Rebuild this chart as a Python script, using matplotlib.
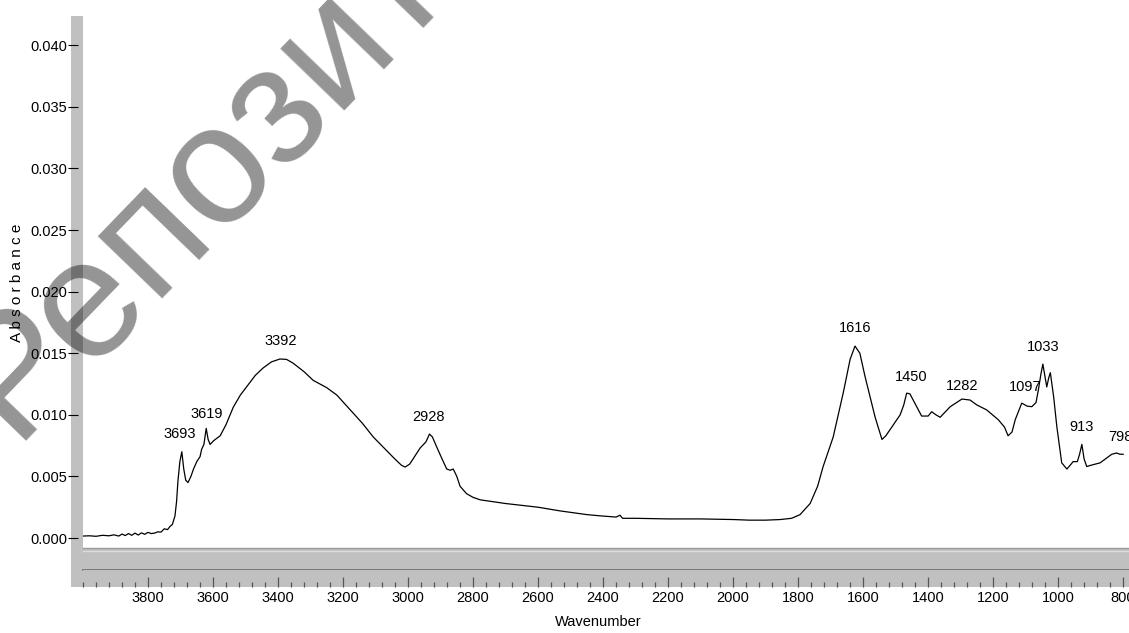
import numpy as np
import matplotlib
matplotlib.use('Agg')
import matplotlib.pyplot as plt
from matplotlib.patches import Rectangle
from matplotlib.ticker import MultipleLocator, FormatStrFormatter

plt.rcParams['font.family'] = ['Liberation Sans', 'DejaVu Sans']

# IR absorbance spectrum
wavenumber = [4000, 3980, 3960, 3940, 3920, 3905, 3890, 3880, 3870, 3860, 3850, 3840,
              3830, 3820, 3810, 3800, 3790, 3780, 3770, 3760, 3750, 3740, 3732, 3725,
              3717, 3712, 3708, 3702, 3696, 3690, 3684, 3677, 3668, 3660, 3650, 3640,
              3635, 3628, 3621, 3615, 3609, 3598, 3588, 3578, 3560, 3538, 3516, 3496,
              3470, 3446, 3420, 3394, 3374, 3354, 3320, 3292, 3250, 3219, 3178, 3140,
              3107, 3070, 3040, 3020, 3009, 2995, 2985, 2963, 2945, 2934, 2925, 2912,
              2895, 2881, 2870, 2861, 2850, 2840, 2820, 2800, 2778, 2700, 2600, 2532,
              2450, 2409, 2360, 2348, 2340, 2300, 2200, 2100, 2000, 1950, 1900, 1855,
              1820, 1794, 1763, 1740, 1723, 1692, 1661, 1640, 1625, 1610, 1594, 1563,
              1542, 1530, 1517, 1486, 1475, 1466, 1456, 1446, 1420, 1400, 1389, 1376,
              1363, 1332, 1296, 1271, 1250, 1220, 1184, 1165, 1154, 1142, 1132, 1112,
              1095, 1081, 1068, 1061, 1053, 1047, 1041, 1035, 1029, 1024, 1014, 1004,
              989, 973, 960, 954, 941, 934, 927, 920, 912, 900, 871, 835, 820, 810, 800]
absorbance = [0.00016, 0.00018, 0.00014, 0.00022, 0.00018, 0.00026, 0.00016, 0.00032,
              0.00020, 0.00036, 0.00022, 0.00040, 0.00024, 0.00042, 0.00030, 0.00046,
              0.00036, 0.00040, 0.00050, 0.00048, 0.00075, 0.00068, 0.00095, 0.00110,
              0.0018, 0.0030, 0.0046, 0.0062, 0.0070, 0.0056, 0.0047, 0.0045, 0.0050,
              0.0056, 0.0062, 0.0066, 0.0072, 0.0076, 0.0089, 0.0080, 0.0076, 0.0079,
              0.0081, 0.0083, 0.0092, 0.0106, 0.0116, 0.0123, 0.0132, 0.0138, 0.0143,
              0.01453, 0.0145, 0.0142, 0.0135, 0.0128, 0.0122, 0.0116, 0.0104, 0.0093,
              0.0082, 0.0072, 0.0064, 0.0059, 0.00576, 0.0060, 0.0064, 0.0073, 0.0078,
              0.00844, 0.0082, 0.0074, 0.0064, 0.0056, 0.0055, 0.0056, 0.0050, 0.0042,
              0.0036, 0.0033, 0.0031, 0.0028, 0.0025, 0.0022, 0.0019, 0.0018, 0.0017,
              0.00185, 0.0016, 0.0016, 0.00155, 0.00155, 0.0015, 0.00145, 0.00145,
              0.0015, 0.0016, 0.0019, 0.0028, 0.0042, 0.0058, 0.0082, 0.0118, 0.0145,
              0.01558, 0.0150, 0.0131, 0.0098, 0.0080, 0.0083, 0.0088, 0.0100, 0.0108,
              0.01176, 0.0117, 0.0112, 0.0099, 0.0099, 0.01025, 0.0100, 0.0098, 0.01066,
              0.01128, 0.0112, 0.0108, 0.0104, 0.0096, 0.0090, 0.0083, 0.0086, 0.0096,
              0.01095, 0.0107, 0.01066, 0.0110, 0.0120, 0.0133, 0.01412, 0.0132, 0.01226,
              0.0130, 0.01342, 0.0115, 0.00904, 0.0061, 0.0056, 0.0060, 0.0062, 0.0062,
              0.0068, 0.0076, 0.0064, 0.0058, 0.0059, 0.0061, 0.0068, 0.0069, 0.0068,
              0.0068]

# peak labels: text and where it sits (wavenumber, absorbance)
peak_text = ['3693', '3619', '3392', '2928', '1616', '1450', '1282', '1097', '1033', '913', '798']
peak_x = [3702, 3619, 3391, 2938, 1625, 1453, 1296, 1102, 1045, 927, 809]
peak_y = [0.00844, 0.0101, 0.0160, 0.0098, 0.01705, 0.01307, 0.01236, 0.01226, 0.01548, 0.0090, 0.0082]

W, H = 1129, 633
fig = plt.figure(figsize=(W / 100, H / 100), dpi=100)
fig.patch.set_facecolor('white')
fs = 10.5


def px_rect(x0, y0, x1, y1):
    # pixel box (top-left origin) -> figure fraction
    return [x0 / W, 1 - y1 / H, (x1 - x0) / W, (y1 - y0) / H]


x_lim = (4000, 782)
grey = '#c0c0c0'

# left grey bar
fig.add_artist(Rectangle((71 / W, 1 - 587 / H), 12 / W, 571 / H,
                         transform=fig.transFigure, facecolor=grey,
                         edgecolor='none', zorder=-1))

ax = fig.add_axes(px_rect(83, 16, W, 548))
ax.plot(wavenumber, absorbance, color='black', lw=0.9)
ax.set_xlim(*x_lim)
for s in ax.spines.values():
    s.set_visible(False)
ax.spines['left'].set_position(('outward', 3.6))
ax.set_xticks([])
ax.yaxis.set_major_locator(MultipleLocator(0.005))
ax.yaxis.set_major_formatter(FormatStrFormatter('%.3f'))
ax.tick_params(axis='y', direction='out', length=7.2, width=0.8, pad=0.5,
               labelsize=fs, color='black')
ax.set_ylim(-0.00081, 0.04237)

for t, x, y in zip(peak_text, peak_x, peak_y):
    ax.text(x, y, t, ha='center', va='center', fontsize=fs, clip_on=False)

# grey band under the plot
band = fig.add_axes(px_rect(83, 548, W, 570))
band.set_facecolor(grey)
band.set_xticks([])
band.set_yticks([])
for k in ('left', 'right'):
    band.spines[k].set_visible(False)
band.spines['top'].set_color('#9a9a9a')
band.spines['top'].set_linewidth(1.0)
band.spines['bottom'].set_color('#7a7a7a')
band.spines['bottom'].set_linewidth(1.4)
band.axhline(0.88, color='#dcdcdc', lw=1.0)

# ruler with wavenumber ticks
ruler = fig.add_axes(px_rect(83, 570, W, 587))
ruler.set_facecolor(grey)
ruler.set_xlim(*x_lim)
ruler.set_yticks([])
for s in ruler.spines.values():
    s.set_visible(False)
ruler.xaxis.set_minor_locator(MultipleLocator(40))
ruler.tick_params(axis='x', which='major', direction='in', length=7.2, width=0.9,
                  color='#555555', labelsize=fs, pad=3)
ruler.tick_params(axis='x', which='minor', direction='in', length=3.6, width=0.9,
                  color='#555555')
ruler.set_xticks(list(range(3800, 799, -200)))

fig.add_artist(Rectangle((71 / W, 1 - 587 / H), 12 / W, 39 / H,
                         transform=fig.transFigure, facecolor=grey,
                         edgecolor='none', zorder=-1))

fig.text(598 / W, 1 - 622 / H, 'Wavenumber', ha='center', va='center', fontsize=fs)
fig.text(17 / W, 1 - 283 / H, 'A b s o r b a n c e', rotation=90,
         ha='center', va='center', fontsize=11)

# watermark
fig.text(12 / W, 192 / H, 'Репозиторий', rotation=46, rotation_mode='anchor',
         ha='left', va='baseline', fontsize=122, color='black', alpha=0.42,
         family=['Liberation Sans', 'DejaVu Sans'], zorder=10)

fig.savefig('out.png', dpi=100)
